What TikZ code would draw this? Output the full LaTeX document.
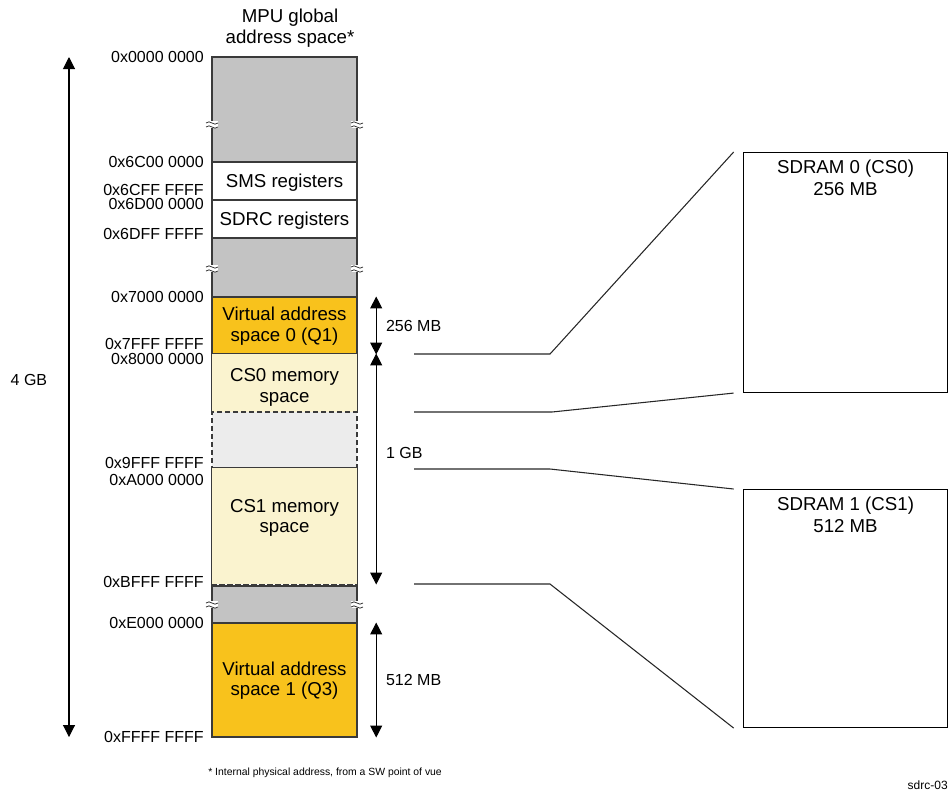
\documentclass[tikz,border=0pt]{standalone}
\usepackage{fontspec}
\setmainfont{Liberation Sans}
\usepackage{tikz}
\usetikzlibrary{arrows.meta,positioning,fit}
\definecolor{memGray}{HTML}{C3C3C3}
\definecolor{virtOrange}{HTML}{F8C21C}
\definecolor{csYellow}{HTML}{FAF3CF}
\definecolor{holeGray}{HTML}{ECECEC}
\definecolor{edgeGray}{HTML}{3A3A3A}

\begin{document}
\begin{tikzpicture}[x=0.75pt, y=-0.75pt,
    memblk/.style={draw=edgeGray, line width=0.8pt, inner sep=0pt},
    grayblk/.style={memblk, fill=memGray},
    regblk/.style={memblk, fill=white},
    virtblk/.style={memblk, fill=virtOrange},
    csblk/.style={memblk, fill=csYellow, draw=none},
    holeblk/.style={memblk, fill=holeGray, dash pattern=on 4pt off 2pt},
    blktext/.style={align=center, inner sep=0pt, font=\fontsize{14}{15.5}\selectfont},
    edgeline/.style={draw=edgeGray, line width=0.8pt},
    addr/.style={anchor=east, inner sep=0pt, font=\fontsize{12}{13}\selectfont},
    sizelbl/.style={inner sep=0pt, font=\fontsize{12}{13}\selectfont},
    ramBox/.style={draw=black, line width=0.8pt, anchor=north west, minimum width=153pt, inner sep=0pt},
    dimline/.style={draw=black, line width=0.8pt, {Triangle[length=9pt,width=9pt]}-{Triangle[length=9pt,width=9pt]}},
    leader/.style={draw=black!85, line width=0.8pt},
    brk/.pic={
        \fill[white] (-6,-3) rectangle (6,3.5);
        \draw[edgeGray, line width=0.6pt] (-6,-1) .. controls (-2,-5) and (2,3) .. (6,-1);
        \draw[edgeGray, line width=0.6pt] (-6,3) .. controls (-2,-1) and (2,7) .. (6,3);
    }
]
\useasboundingbox (0,0) rectangle (948,790);

% Title
\node[blktext] (title) at (290,28) {MPU global\\address space*};

% Memory column
\node[grayblk, fit={(212,57) (357,162)}] (mem0) {};
\node[regblk, fit={(212,162) (357,200)}] (sms) {};
\node[regblk, fit={(212,200) (357,238)}] (sdrc) {};
\node[grayblk, fit={(212,238) (357,297)}] (mem1) {};
\node[virtblk, fit={(212,297) (357,354)}] (q1) {};
\node[csblk, fit={(212,354) (357,412)}] (cs0) {};
\node[holeblk, fit={(212,412) (357,468)}] (hole) {};
\node[csblk, fit={(212,468) (357,584)}] (cs1) {};
\node[grayblk, fit={(212,586) (357,623)}] (mem2) {};
\node[virtblk, fit={(212,623) (357,737)}] (q3) {};

\draw[edgeline] (cs0.south west) -- (cs0.north west) -- (cs0.north east) -- (cs0.south east);
\draw[edgeline] (cs1.south west) -- (cs1.north west) -- (cs1.north east) -- (cs1.south east);
\draw[edgeline, dash pattern=on 4pt off 2pt] (cs1.south west) -- (cs1.south east);

\node[blktext] (smstxt) at ([yshift=-1.5pt]sms.center) {SMS registers};
\node[blktext] (sdrctxt) at ([yshift=-1.5pt]sdrc.center) {SDRC registers};
\node[blktext] (q1txt) at ([yshift=-0.5pt]q1.center) {Virtual address\\space 0 (Q1)};
\node[blktext] (cs0txt) at ([yshift=-3.5pt]cs0.center) {CS0 memory\\space};
\node[blktext] (cs1txt) at ([yshift=6pt]cs1.center) {CS1 memory\\space};
\node[blktext] (q3txt) at ([yshift=-0.5pt]q3.center) {Virtual address\\space 1 (Q3)};

% Breaks
\foreach \y in {124,268,604} {
    \pic at (212,\y) {brk};
    \pic at (357,\y) {brk};
}

% Addresses
\node[addr] (a0) at (204,57) {0x0000 0000};
\node[addr] (a1) at (204,162) {0x6C00 0000};
\node[addr] (a2) at (204,190) {0x6CFF FFFF};
\node[addr] (a3) at (204,204) {0x6D00 0000};
\node[addr] (a4) at (204,234) {0x6DFF FFFF};
\node[addr] (a5) at (204,297) {0x7000 0000};
\node[addr] (a6) at (204,344) {0x7FFF FFFF};
\node[addr] (a7) at (204,359) {0x8000 0000};
\node[addr] (a8) at (204,463) {0x9FFF FFFF};
\node[addr] (a9) at (204,480) {0xA000 0000};
\node[addr] (a10) at (204,582) {0xBFFF FFFF};
\node[addr] (a11) at (204,623) {0xE000 0000};
\node[addr] (a12) at (204,737) {0xFFFF FFFF};

% Sizes
\coordinate (gbTop) at (69,57);
\coordinate (gbBot) at (69,737);
\draw[dimline] (gbTop) -- node[sizelbl, pos=0.475, left=16pt] {4 GB} (gbBot);
\draw[dimline] ([xshift=14pt]q1.north east) -- node[sizelbl, right=7pt] {256 MB} ([xshift=14pt]q1.south east);
\draw[dimline] ([xshift=14pt]cs0.north east) -- node[sizelbl, pos=0.43, right=7pt] {1 GB} ([xshift=14pt]cs1.south east);
\draw[dimline] ([xshift=14pt]q3.north east) -- node[sizelbl, right=7pt] {512 MB} ([xshift=14pt]q3.south east);

% SDRAM devices
\node[ramBox, minimum height=180pt] (sd0) at (743,152) {};
\node[blktext, anchor=north, font=\fontsize{14}{16}\selectfont] (sd0txt) at ([yshift=-6pt]sd0.north) {SDRAM 0 (CS0)\\256 MB};
\node[ramBox, minimum height=178.5pt] (sd1) at (743,489) {};
\node[blktext, anchor=north, font=\fontsize{14}{16}\selectfont] (sd1txt) at ([yshift=-6pt]sd1.north) {SDRAM 1 (CS1)\\512 MB};

% Leaders
\coordinate (l1) at (414,354);
\coordinate (l2) at (414,412);
\coordinate (l3) at (414,469);
\coordinate (l4) at (414,584);
\draw[leader] (l1) -- ++(136,0) -- ([xshift=-7pt]sd0.north west);
\draw[leader] (l2) -- ++(138,0) -- ([xshift=-7pt]sd0.south west);
\draw[leader] (l3) -- ++(136,0) -- ([xshift=-7pt]sd1.north west);
\draw[leader] (l4) -- ++(136,0) -- ([xshift=-7pt]sd1.south west);

% Notes
\node[anchor=west, inner sep=0pt, font=\fontsize{7.8}{8}\selectfont] (note) at (208,773) {* Internal physical address, from a SW point of vue};
\node[anchor=east, inner sep=0pt, font=\fontsize{9}{10}\selectfont] (figid) at (948,785) {sdrc-03};

\end{tikzpicture}
\end{document}
